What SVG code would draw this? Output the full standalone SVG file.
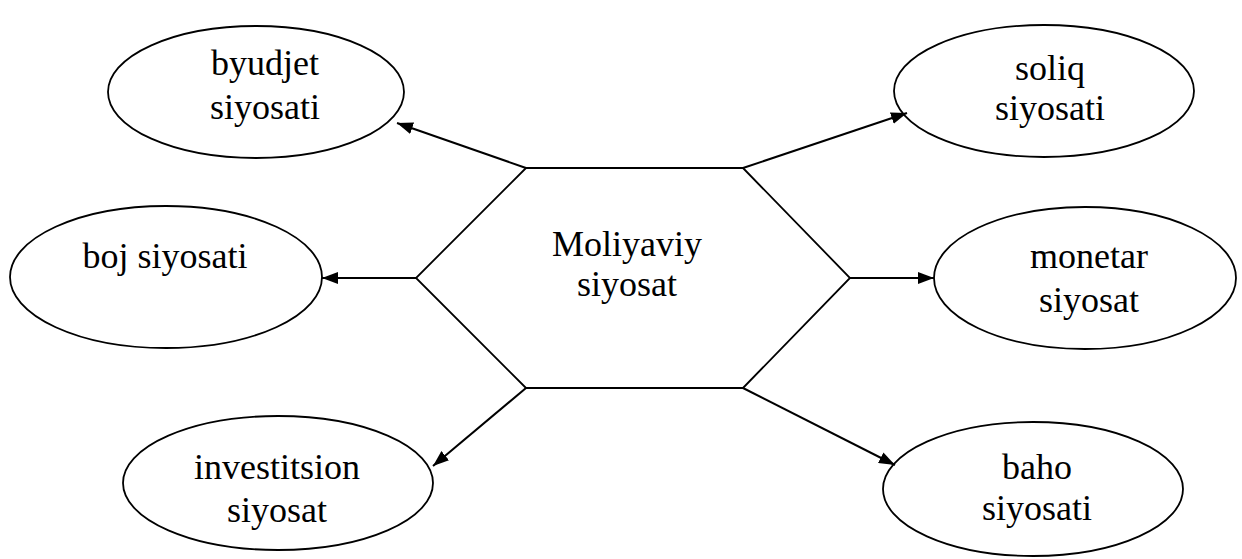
<svg xmlns="http://www.w3.org/2000/svg" width="1242" height="559" viewBox="0 0 1242 559">
<defs>
<style>
.node{fill:#fff;stroke:#000;stroke-width:1.8}
.lbl{font-size:36px;fill:#000;text-anchor:middle}
.conn{stroke:#000;stroke-width:2;fill:none;marker-end:url(#ah)}
</style>
<marker id="ah" markerUnits="userSpaceOnUse" markerWidth="16" markerHeight="12" refX="16" refY="6" orient="auto" viewBox="0 0 16 12">
<path d="M0,0 L16,6 L0,12 z" fill="#000"/>
</marker>
</defs>
<rect width="1242" height="559" fill="#fff"/>
<g font-family="Liberation Serif, Times New Roman, serif">
<g id="center">
<polygon class="node" points="526,168 743,168 850,278 743,388 526,388 416,278"/>
<text class="lbl" x="627" y="256">Moliyaviy</text>
<text class="lbl" x="627" y="296">siyosat</text>
</g>
<g id="byudjet">
<ellipse class="node" cx="256" cy="92" rx="148" ry="66"/>
<text class="lbl" x="265" y="75">byudjet</text>
<text class="lbl" x="265" y="119">siyosati</text>
</g>
<g id="soliq">
<ellipse class="node" cx="1044" cy="91" rx="150" ry="66"/>
<text class="lbl" x="1050" y="80">soliq</text>
<text class="lbl" x="1050" y="120">siyosati</text>
</g>
<g id="boj">
<ellipse class="node" cx="166" cy="277" rx="156" ry="71"/>
<text class="lbl" x="165" y="268">boj siyosati</text>
</g>
<g id="monetar">
<ellipse class="node" cx="1085" cy="278" rx="151" ry="71"/>
<text class="lbl" x="1089" y="268">monetar</text>
<text class="lbl" x="1089" y="312">siyosat</text>
</g>
<g id="investitsion">
<ellipse class="node" cx="278" cy="483" rx="155" ry="67"/>
<text class="lbl" x="277" y="479">investitsion</text>
<text class="lbl" x="277" y="522">siyosat</text>
</g>
<g id="baho">
<ellipse class="node" cx="1033" cy="489" rx="150" ry="67"/>
<text class="lbl" x="1037" y="479">baho</text>
<text class="lbl" x="1037" y="520">siyosati</text>
</g>
</g>
<g id="connectors">
<line class="conn" x1="526" y1="168" x2="397" y2="123"/>
<line class="conn" x1="416" y1="278" x2="322" y2="278"/>
<line class="conn" x1="526" y1="388" x2="433" y2="466"/>
<line class="conn" x1="743" y1="168" x2="907" y2="113"/>
<line class="conn" x1="850" y1="278" x2="934" y2="278"/>
<line class="conn" x1="743" y1="388" x2="895" y2="465"/>
</g>
</svg>
